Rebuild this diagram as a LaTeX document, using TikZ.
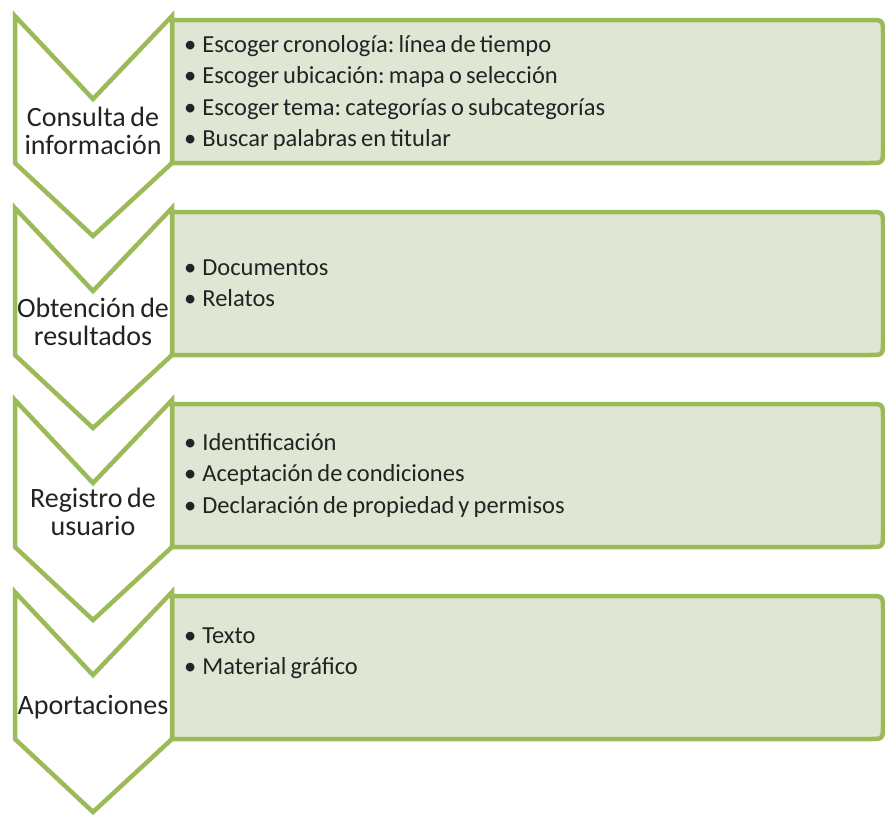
\documentclass[tikz,border=0pt]{standalone}
\usepackage{fontspec}
\setmainfont{Carlito}
\newfontfamily\labelfont{Carlito}[WordSpace=0.35]
\newfontfamily\itemfont{Carlito}[WordSpace=0.75]
\usepackage{tikz}
\frenchspacing

\definecolor{olivegreen}{RGB}{155,187,89}
\definecolor{panelgreen}{RGB}{223,230,211}
\definecolor{textgray}{RGB}{35,35,35}

\begin{document}
\begin{tikzpicture}[x=1pt, y=-1pt,
    chev/.style={draw=olivegreen, line width=4.5pt, fill=white, line join=miter},
    panel/.style={draw=olivegreen, line width=4.5pt, fill=panelgreen},
    lbl/.style={align=center, font=\labelfont\fontsize{28}{28}\selectfont, text=textgray, inner sep=0pt},
    items/.style={align=left, anchor=west, font=\itemfont\fontsize{24.5}{31.5}\selectfont, text=textgray, inner sep=0pt}]
        \useasboundingbox (0,0) rectangle (885,815);
        % panels behind the chevrons
        \draw[panel] (172,16+4) -- (869,16+4) .. controls (883,16+4) .. (883,16+18) -- (883,16+133) .. controls (883,16+147) .. (869,16+147) -- (172,16+147) -- cycle;
        \draw[panel] (172,208+4) -- (869,208+4) .. controls (883,208+4) .. (883,208+18) -- (883,208+133) .. controls (883,208+147) .. (869,208+147) -- (172,208+147) -- cycle;
        \draw[panel] (172,400+4) -- (869,400+4) .. controls (883,400+4) .. (883,400+18) -- (883,400+133) .. controls (883,400+147) .. (869,400+147) -- (172,400+147) -- cycle;
        \draw[panel] (172,592+4) -- (869,592+4) .. controls (883,592+4) .. (883,592+18) -- (883,592+133) .. controls (883,592+147) .. (869,592+147) -- (172,592+147) -- cycle;
        % chevrons
        \draw[chev] (15,16) -- (93,16+83) -- (172,16) -- (172,16+147) -- (93,16+220) -- (15,16+147) -- cycle;
        \draw[chev] (15,208) -- (93,208+83) -- (172,208) -- (172,208+147) -- (93,208+220) -- (15,208+147) -- cycle;
        \draw[chev] (15,400) -- (93,400+83) -- (172,400) -- (172,400+147) -- (93,400+220) -- (15,400+147) -- cycle;
        \draw[chev] (15,592) -- (93,592+83) -- (172,592) -- (172,592+147) -- (93,592+220) -- (15,592+147) -- cycle;
        % step names
        \node[lbl] (consulta) at (93,16+115) {Consulta de\\información};
        \node[lbl] (obtencion) at (93,208+114) {Obtención de\\resultados};
        \node[lbl] (registro) at (93,400+112) {Registro de\\usuario};
        \node[lbl] (aportaciones) at (93,592+115) {Aportaciones};
        % bullet lists
        \node[items] (consultaItems) at (184,93) {\textbullet\hspace{6pt}Escoger cronología: línea de tiempo\\\textbullet\hspace{6pt}Escoger ubicación: mapa o selección\\\textbullet\hspace{6pt}Escoger tema: categorías o subcategorías\\\textbullet\hspace{6pt}Buscar palabras en titular};
        \node[items] (obtencionItems) at (184,283) {\textbullet\hspace{6pt}Documentos\\\textbullet\hspace{6pt}Relatos};
        \node[items] (registroItems) at (184,475) {\textbullet\hspace{6pt}Identificación\\\textbullet\hspace{6pt}Aceptación de condiciones\\\textbullet\hspace{6pt}Declaración de propiedad y permisos};
        \node[items] (aportacionesItems) at (184,653) {\textbullet\hspace{6pt}Texto\\\textbullet\hspace{6pt}Material gráfico};
\end{tikzpicture}
\end{document}
